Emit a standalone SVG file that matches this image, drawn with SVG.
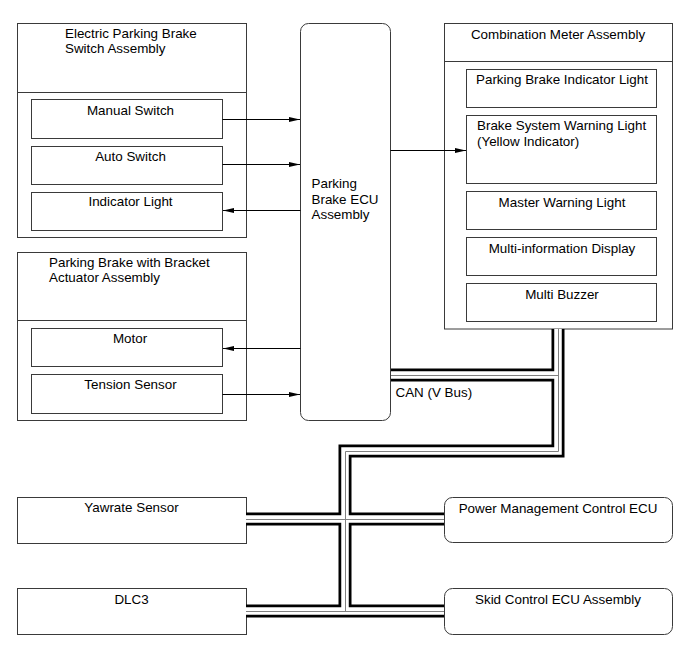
<svg xmlns="http://www.w3.org/2000/svg" width="690" height="659" viewBox="0 0 690 659">
<defs>
<style>
.box{fill:#fff;stroke:#3a3a3a;stroke-width:1}
.div{stroke:#3a3a3a;stroke-width:1}
text{font-family:"Liberation Sans",Arial,sans-serif;font-size:13.4px;fill:#000}
.c{text-anchor:middle}
.arr{stroke:#000;stroke-width:1;fill:none;marker-end:url(#ah)}
.busB{stroke:#000;stroke-width:13;fill:none;stroke-linejoin:miter;stroke-linecap:butt}
.busW{stroke:#fff;stroke-width:7.5;fill:none;stroke-linejoin:miter;stroke-linecap:butt}
.busC{stroke:#808080;stroke-width:1;fill:none;stroke-linecap:butt}
</style>
<marker id="ah" markerUnits="userSpaceOnUse" markerWidth="11" markerHeight="6" refX="11" refY="3" orient="auto">
<path d="M0,0.5 L11,3 L0,5.5 z" fill="#000"/>
</marker>
</defs>
<rect width="690" height="659" fill="#fff"/>

<g id="epb-switch-assembly">
<rect class="box" x="17.5" y="23.5" width="229" height="214"/>
<line class="div" x1="17.5" y1="92.5" x2="246.5" y2="92.5"/>
<text x="65" y="37.5">Electric Parking Brake</text>
<text x="65" y="52.5">Switch Assembly</text>
</g>
<g id="manual-switch">
<rect class="box" x="31.5" y="99.5" width="191" height="39"/>
<text class="c" x="130.5" y="114.5">Manual Switch</text>
</g>
<g id="auto-switch">
<rect class="box" x="31.5" y="146.5" width="191" height="38"/>
<text class="c" x="130.5" y="160.5">Auto Switch</text>
</g>
<g id="indicator-light">
<rect class="box" x="31.5" y="192.5" width="191" height="38"/>
<text class="c" x="130.5" y="205.5">Indicator Light</text>
</g>

<g id="pb-actuator-assembly">
<rect class="box" x="17.5" y="252.5" width="229" height="168"/>
<line class="div" x1="17.5" y1="320.5" x2="246.5" y2="320.5"/>
<text x="49" y="267">Parking Brake with Bracket</text>
<text x="49" y="282">Actuator Assembly</text>
</g>
<g id="motor">
<rect class="box" x="31.5" y="328.5" width="191" height="38"/>
<text class="c" x="130" y="342.5">Motor</text>
</g>
<g id="tension-sensor">
<rect class="box" x="31.5" y="374.5" width="191" height="39"/>
<text class="c" x="130.5" y="389">Tension Sensor</text>
</g>

<g id="pb-ecu">
<rect class="box" x="300.5" y="23.5" width="90" height="397" rx="8"/>
<text x="311.5" y="188">Parking</text>
<text x="311.5" y="203.5">Brake ECU</text>
<text x="311.5" y="219">Assembly</text>
</g>

<g id="combination-meter">
<rect class="box" x="444.5" y="23.5" width="228" height="305.5"/>
<line class="div" x1="444.5" y1="61.5" x2="672.5" y2="61.5"/>
<text class="c" x="558" y="38.5">Combination Meter Assembly</text>
</g>
<g id="pb-indicator-light">
<rect class="box" x="466.5" y="69.5" width="190" height="38"/>
<text class="c" x="562" y="84">Parking Brake Indicator Light</text>
</g>
<g id="brake-system-warning-light">
<rect class="box" x="466.5" y="115.5" width="190" height="68"/>
<text x="477" y="130">Brake System Warning Light</text>
<text x="477" y="145.5">(Yellow Indicator)</text>
</g>
<g id="master-warning-light">
<rect class="box" x="466.5" y="191.5" width="190" height="38"/>
<text class="c" x="562" y="206.5">Master Warning Light</text>
</g>
<g id="multi-info-display">
<rect class="box" x="466.5" y="237.5" width="190" height="38"/>
<text class="c" x="562" y="252.5">Multi-information Display</text>
</g>
<g id="multi-buzzer">
<rect class="box" x="466.5" y="283.5" width="190" height="38"/>
<text class="c" x="562" y="298.5">Multi Buzzer</text>
</g>

<g id="yawrate-sensor">
<rect class="box" x="17.5" y="497.5" width="229" height="46"/>
<text class="c" x="131.5" y="512">Yawrate Sensor</text>
</g>
<g id="dlc3">
<rect class="box" x="17.5" y="588.5" width="229" height="46"/>
<text class="c" x="131.5" y="604">DLC3</text>
</g>
<g id="power-management-ecu">
<rect class="box" x="444.5" y="497.5" width="228" height="45" rx="8"/>
<text class="c" x="558" y="512.5">Power Management Control ECU</text>
</g>
<g id="skid-control-ecu">
<rect class="box" x="444.5" y="588.5" width="228" height="46" rx="8"/>
<text class="c" x="558" y="604">Skid Control ECU Assembly</text>
</g>

<g id="connectors">
<path class="arr" d="M222.5,119.5 H300"/>
<path class="arr" d="M222.5,164.5 H300"/>
<path class="arr" d="M300.5,210.5 H223"/>
<path class="arr" d="M300.5,348.5 H223"/>
<path class="arr" d="M222.5,394.5 H300"/>
<path class="arr" d="M390.5,150.5 H466"/>
<g id="can-bus">
<path class="busB" d="M558,329 V451 H345 V611"/>
<path class="busB" d="M391,375 H558"/>
<path class="busB" d="M246,519 H444"/>
<path class="busB" d="M246,611 H444"/>
<path class="busW" d="M558,329 V451 H345 V611"/>
<path class="busW" d="M391,375 H558"/>
<path class="busW" d="M246,519 H444"/>
<path class="busW" d="M246,611 H444"/>
<path class="busC" d="M558.5,329 V451.5 H345.5 V611"/>
<path class="busC" d="M391,375.5 H558"/>
<path class="busC" d="M246,519.5 H444"/>
<path class="busC" d="M246,611.5 H444"/>
</g>
<text x="395.5" y="397">CAN (V Bus)</text>
</g>
</svg>
